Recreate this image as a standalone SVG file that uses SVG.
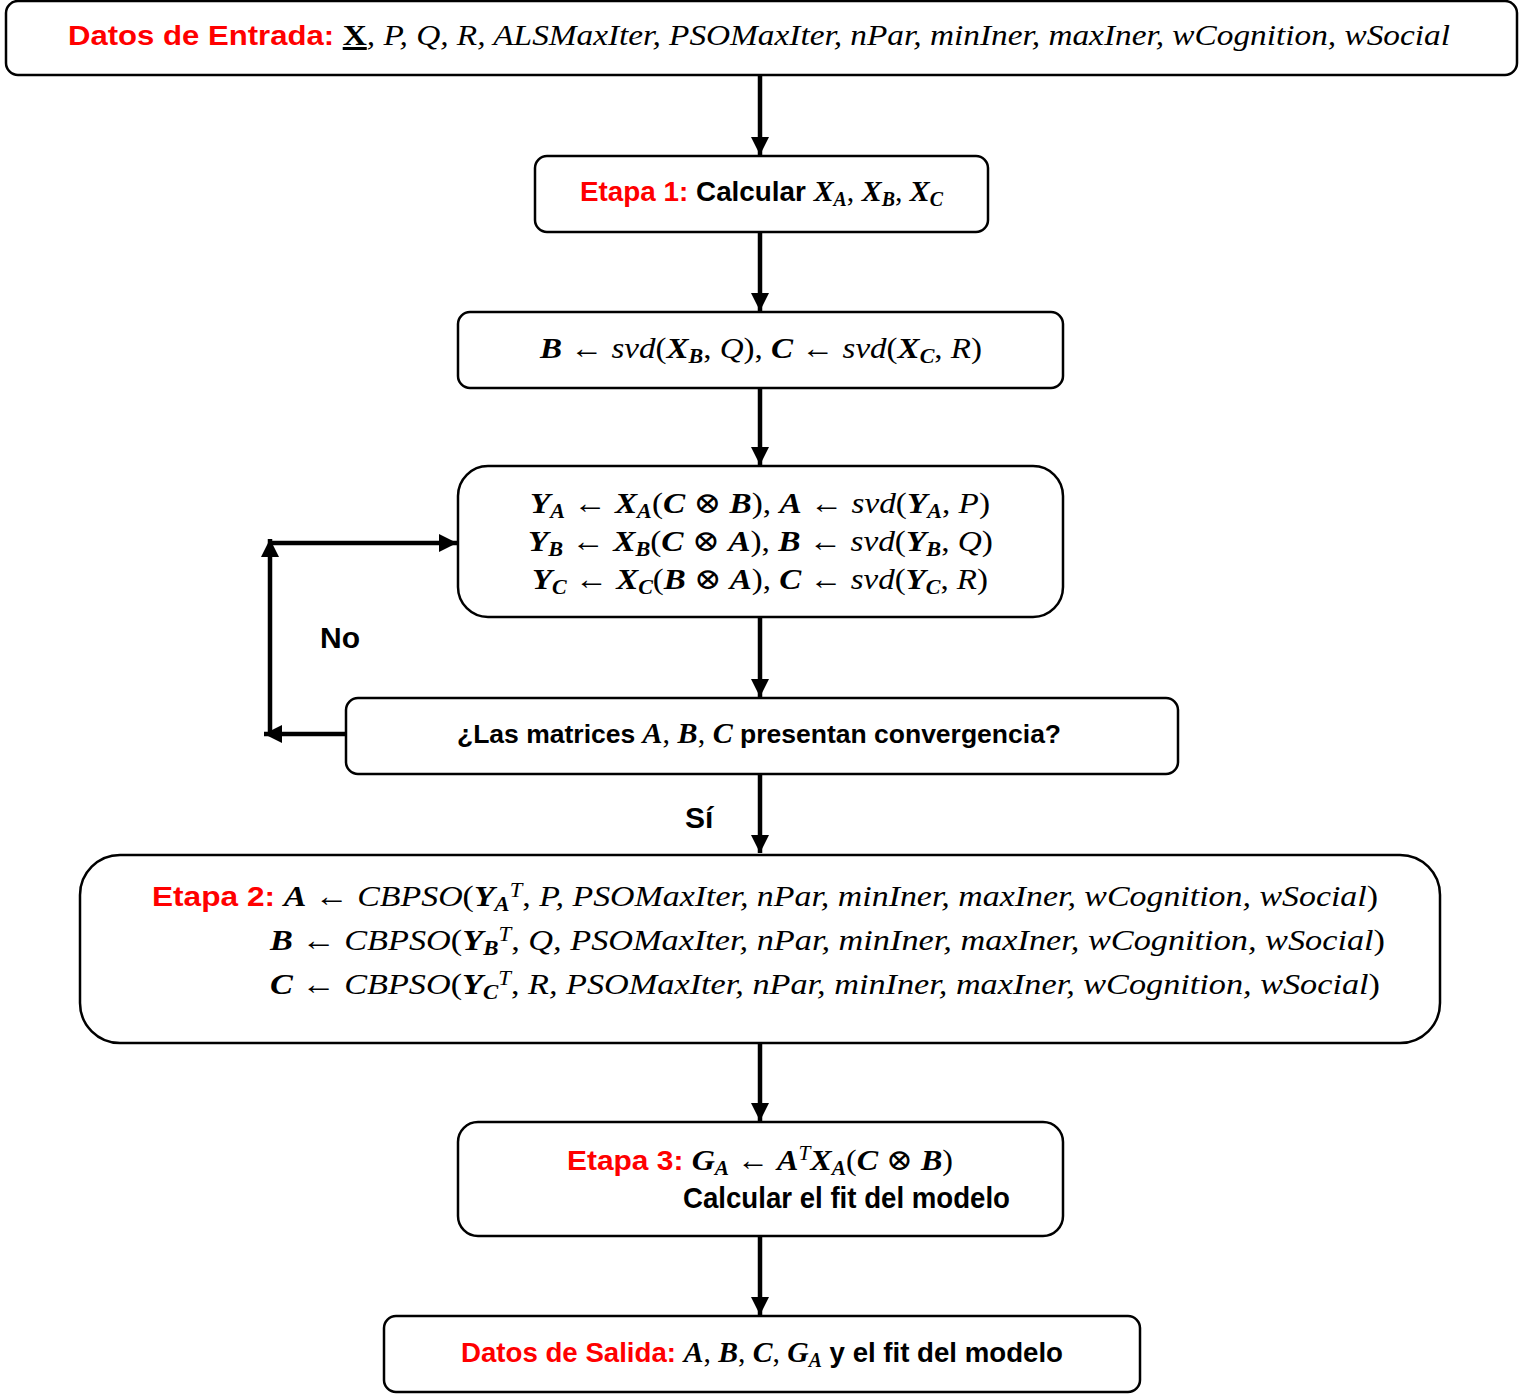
<svg xmlns="http://www.w3.org/2000/svg" width="1519" height="1394" viewBox="0 0 1519 1394">
<style>
.box{fill:#fff;stroke:#000;stroke-width:2.5}
.ln{stroke:#000;stroke-width:4.5;fill:none}
.t{font-family:"Liberation Serif","DejaVu Serif",serif;font-size:30px;fill:#000}
.lab{font-family:"Liberation Sans Narrow","Liberation Sans",sans-serif;font-weight:bold}
.red{fill:#ff0000}
.i{font-style:italic}
.b{font-weight:bold}
.s{font-size:20px}
</style>
<defs>
<marker id="ah" viewBox="0 0 10 10" refX="10" refY="5" markerWidth="4" markerHeight="4" markerUnits="strokeWidth" orient="auto">
<path d="M0,0 L10,5 L0,10 z" fill="#000"/>
</marker>
</defs>
<g id="connectors">
<line class="ln" x1="760" y1="76" x2="760" y2="155" marker-end="url(#ah)"/>
<line class="ln" x1="760" y1="232" x2="760" y2="311" marker-end="url(#ah)"/>
<line class="ln" x1="760" y1="388" x2="760" y2="465" marker-end="url(#ah)"/>
<line class="ln" x1="760" y1="617" x2="760" y2="697" marker-end="url(#ah)"/>
<line class="ln" x1="760" y1="774" x2="760" y2="853" marker-end="url(#ah)"/>
<line class="ln" x1="760" y1="1043" x2="760" y2="1121" marker-end="url(#ah)"/>
<line class="ln" x1="760" y1="1236" x2="760" y2="1315" marker-end="url(#ah)"/>
<line class="ln" x1="346" y1="734" x2="264" y2="734" marker-end="url(#ah)"/>
<line class="ln" x1="270" y1="736" x2="270" y2="539" marker-end="url(#ah)"/>
<line class="ln" x1="268" y1="543" x2="457" y2="543" marker-end="url(#ah)"/>
<text class="t lab" x="320" y="648" font-size="30">No</text>
<text class="t lab" x="685" y="828" font-size="30">Sí</text>
</g>
<g id="n-entrada">
<rect class="box" x="6" y="1" width="1511" height="74" rx="12"/>
<text class="t" x="68" y="45" textLength="1382" lengthAdjust="spacingAndGlyphs"><tspan class="lab red" font-size="28">Datos de Entrada: </tspan><tspan class="b" text-decoration="underline">X</tspan><tspan class="i">, P, Q, R, ALSMaxIter, PSOMaxIter, nPar, minIner, maxIner, wCognition, wSocial</tspan></text>
</g>
<g id="n-etapa1">
<rect class="box" x="535" y="156" width="453" height="76" rx="12"/>
<text class="t" x="580" y="201" textLength="363" lengthAdjust="spacingAndGlyphs"><tspan class="lab red" font-size="28">Etapa 1: </tspan><tspan class="lab" font-size="28">Calcular </tspan><tspan class="b i">X</tspan><tspan class="b i s" dy="5">A</tspan><tspan dy="-5">, </tspan><tspan class="b i">X</tspan><tspan class="b i s" dy="5">B</tspan><tspan dy="-5">, </tspan><tspan class="b i">X</tspan><tspan class="b i s" dy="5">C</tspan></text>
</g>
<g id="n-svd">
<rect class="box" x="458" y="312" width="605" height="76" rx="12"/>
<text class="t" x="540" y="358" textLength="442" lengthAdjust="spacingAndGlyphs"><tspan class="b i">B</tspan><tspan> ← </tspan><tspan class="i">svd</tspan><tspan>(</tspan><tspan class="b i">X</tspan><tspan class="b i s" dy="5">B</tspan><tspan dy="-5">, </tspan><tspan class="i">Q</tspan><tspan>), </tspan><tspan class="b i">C</tspan><tspan> ← </tspan><tspan class="i">svd</tspan><tspan>(</tspan><tspan class="b i">X</tspan><tspan class="b i s" dy="5">C</tspan><tspan dy="-5">, </tspan><tspan class="i">R</tspan><tspan>)</tspan></text>
</g>
<g id="n-als">
<rect class="box" x="458" y="466" width="605" height="151" rx="30"/>
<text class="t" x="530" y="513" textLength="460" lengthAdjust="spacingAndGlyphs"><tspan class="b i">Y</tspan><tspan class="b i s" dy="5">A</tspan><tspan dy="-5"> ← </tspan><tspan class="b i">X</tspan><tspan class="b i s" dy="5">A</tspan><tspan dy="-5">(</tspan><tspan class="b i">C</tspan><tspan> ⊗ </tspan><tspan class="b i">B</tspan><tspan>), </tspan><tspan class="b i">A</tspan><tspan> ← </tspan><tspan class="i">svd</tspan><tspan>(</tspan><tspan class="b i">Y</tspan><tspan class="b i s" dy="5">A</tspan><tspan dy="-5">, </tspan><tspan class="i">P</tspan><tspan>)</tspan></text>
<text class="t" x="528" y="551" textLength="465" lengthAdjust="spacingAndGlyphs"><tspan class="b i">Y</tspan><tspan class="b i s" dy="5">B</tspan><tspan dy="-5"> ← </tspan><tspan class="b i">X</tspan><tspan class="b i s" dy="5">B</tspan><tspan dy="-5">(</tspan><tspan class="b i">C</tspan><tspan> ⊗ </tspan><tspan class="b i">A</tspan><tspan>), </tspan><tspan class="b i">B</tspan><tspan> ← </tspan><tspan class="i">svd</tspan><tspan>(</tspan><tspan class="b i">Y</tspan><tspan class="b i s" dy="5">B</tspan><tspan dy="-5">, </tspan><tspan class="i">Q</tspan><tspan>)</tspan></text>
<text class="t" x="532" y="589" textLength="456" lengthAdjust="spacingAndGlyphs"><tspan class="b i">Y</tspan><tspan class="b i s" dy="5">C</tspan><tspan dy="-5"> ← </tspan><tspan class="b i">X</tspan><tspan class="b i s" dy="5">C</tspan><tspan dy="-5">(</tspan><tspan class="b i">B</tspan><tspan> ⊗ </tspan><tspan class="b i">A</tspan><tspan>), </tspan><tspan class="b i">C</tspan><tspan> ← </tspan><tspan class="i">svd</tspan><tspan>(</tspan><tspan class="b i">Y</tspan><tspan class="b i s" dy="5">C</tspan><tspan dy="-5">, </tspan><tspan class="i">R</tspan><tspan>)</tspan></text>
</g>
<g id="n-conv">
<rect class="box" x="346" y="698" width="832" height="76" rx="12"/>
<text class="t" x="457" y="743" font-size="29"><tspan class="lab" font-size="26.5">¿Las matrices </tspan><tspan class="b i">A</tspan><tspan>, </tspan><tspan class="b i">B</tspan><tspan>, </tspan><tspan class="b i">C</tspan><tspan class="lab" font-size="26.5"> presentan convergencia?</tspan></text>
</g>
<g id="n-etapa2">
<rect class="box" x="80" y="855" width="1360" height="188" rx="40"/>
<text class="t" x="152" y="906" textLength="1226" lengthAdjust="spacingAndGlyphs"><tspan class="lab red" font-size="28">Etapa 2: </tspan><tspan class="b i">A</tspan><tspan> ← </tspan><tspan class="i">CBPSO</tspan><tspan>(</tspan><tspan class="b i">Y</tspan><tspan class="b i s" dy="5">A</tspan><tspan class="i s" dy="-14">T</tspan><tspan dy="9">, </tspan><tspan class="i">P, PSOMaxIter, nPar, minIner, maxIner, wCognition, wSocial</tspan><tspan>)</tspan></text>
<text class="t" x="270" y="950" textLength="1115" lengthAdjust="spacingAndGlyphs"><tspan class="b i">B</tspan><tspan> ← </tspan><tspan class="i">CBPSO</tspan><tspan>(</tspan><tspan class="b i">Y</tspan><tspan class="b i s" dy="5">B</tspan><tspan class="i s" dy="-14">T</tspan><tspan dy="9">, </tspan><tspan class="i">Q, PSOMaxIter, nPar, minIner, maxIner, wCognition, wSocial</tspan><tspan>)</tspan></text>
<text class="t" x="270" y="994" textLength="1110" lengthAdjust="spacingAndGlyphs"><tspan class="b i">C</tspan><tspan> ← </tspan><tspan class="i">CBPSO</tspan><tspan>(</tspan><tspan class="b i">Y</tspan><tspan class="b i s" dy="5">C</tspan><tspan class="i s" dy="-14">T</tspan><tspan dy="9">, </tspan><tspan class="i">R, PSOMaxIter, nPar, minIner, maxIner, wCognition, wSocial</tspan><tspan>)</tspan></text>
</g>
<g id="n-etapa3">
<rect class="box" x="458" y="1122" width="605" height="114" rx="20"/>
<text class="t" x="567" y="1170" textLength="386" lengthAdjust="spacingAndGlyphs"><tspan class="lab red" font-size="28">Etapa 3: </tspan><tspan class="b i">G</tspan><tspan class="b i s" dy="5">A</tspan><tspan dy="-5"> ← </tspan><tspan class="b i">A</tspan><tspan class="i s" dy="-10">T</tspan><tspan class="b i" dy="10">X</tspan><tspan class="b i s" dy="5">A</tspan><tspan dy="-5">(</tspan><tspan class="b i">C</tspan><tspan> ⊗ </tspan><tspan class="b i">B</tspan><tspan>)</tspan></text>
<text class="t lab" x="683" y="1208" font-size="28" textLength="327" lengthAdjust="spacingAndGlyphs">Calcular el fit del modelo</text>
</g>
<g id="n-salida">
<rect class="box" x="384" y="1316" width="756" height="76" rx="12"/>
<text class="t" x="461" y="1362" textLength="602" lengthAdjust="spacingAndGlyphs"><tspan class="lab red" font-size="28">Datos de Salida: </tspan><tspan class="b i">A</tspan><tspan>, </tspan><tspan class="b i">B</tspan><tspan>, </tspan><tspan class="b i">C</tspan><tspan>, </tspan><tspan class="b i">G</tspan><tspan class="b i s" dy="5">A</tspan><tspan class="lab" font-size="28" dy="-5"> y el fit del modelo</tspan></text>
</g>
</svg>
